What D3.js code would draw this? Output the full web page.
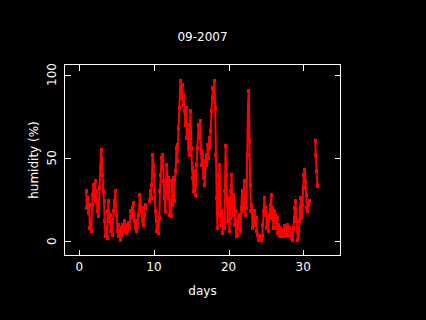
<!DOCTYPE html>
<html>
<head>
<meta charset="utf-8">
<script src="https://cdn.jsdelivr.net/npm/d3@7"></script>
<style>
  body { margin: 0; background: #000; }
  svg { display: block; }
</style>
</head>
<body>
<script>
// chart size
var w = 426;
var h = 320;

// readings every 0.1 day, starting at day 0.9 (null = no data)
var startDay = 0.9;
var stepDay = 0.1;
var humidity = [
  30, 20, 26, 17, 22, 8, 12, 6, 22, 28,          // 0.9 - 1.8
  34, 26, 36, 24, 30, 18, 24, 15, 32, 44,        // 1.9 - 2.8
  55, 50, 40, 30, 24, 12, 3, 8, 2, 18,           // 2.9 - 3.8
  24, 12, 16, 6, 10, 4, 12, 18, 24, 30,          // 3.9 - 4.8
  22, 16, 6, 10, 3, 6, 1, 8, 4, 10,              // 4.9 - 5.8
  6, 12, 7, 10, 5, 9, 6, 11, 8, 14,              // 5.9 - 6.8
  18, 14, 20, 23, 16, 12, 8, 12, 6, 10,          // 6.9 - 7.8
  16, 20, 28, 22, 18, 12, 20, 10, 16, 22,        // 7.9 - 8.8
  20, null, null, null, null, 24, 30, 26, 34, 52, // 8.9 - 9.8
  46, 40, 30, 18, 12, 6, 9, 5, 14, 30,           // 9.9 - 10.8
  40, 50, 44, 52, 36, 26, 18, 30, 46, 36,        // 10.9 - 11.8
  26, 38, 16, 24, 15, 36, 22, 38, 24, 36,        // 11.9 - 12.8
  42, 56, 48, 58, 68, 80, 92, 96, 86, 94,        // 12.9 - 13.8
  82, 88, 78, 70, 80, 62, 70, 56, 52, 66,        // 13.9 - 14.8
  78, 56, 44, 38, 30, 42, 28, 34, 46, 56,        // 14.9 - 15.8
  64, 70, 62, 72, 54, 46, 52, 38, 44, 34,        // 15.9 - 16.8
  48, 52, 46, 58, 50, 62, 56, 66, 78, 86,        // 16.9 - 17.8
  92, 90, 96, 80, 52, 26, 8, 16, 40, 46,         // 17.9 - 18.8
  22, 10, 18, 5, 14, 8, 30, 57, 40, 22,          // 18.9 - 19.8
  12, 26, 6, 14, 30, 40, 20, 16, 28, 10,         // 19.9 - 20.8
  18, 3, 12, 4, 14, 8, 16, 6, 20, 30,            // 20.9 - 21.8
  18, 26, 36, 16, 28, 20, 52, 82, 90, 60,        // 21.9 - 22.8
  34, 18, 22, 8, 16, 10, 18, 10, 14, 6,          // 22.9 - 23.8
  4, 1, 3, 1, 2, 1, 3, 10, 18, 26,               // 23.9 - 24.8
  16, 20, 8, 14, 6, 12, 16, 22, 28, 14,          // 24.9 - 25.8
  20, 8, 18, 12, 16, 8, 14, 5, 10, 4,            // 25.9 - 26.8
  8, 3, 7, 4, 6, 3, 9, 6, 8, 4,                  // 26.9 - 27.8
  10, 6, 8, 3, 5, 2, 6, 1, 8, 14,                // 27.9 - 28.8
  20, 24, 12, 6, 0.5, 4, 12, 20, 26, 14,         // 28.9 - 29.8
  22, 32, 40, 43, 36, 28, 20, 18, 22, 24,        // 29.9 - 30.8
  null, null, null, null, null, null, null, 60, 52, 42, // 30.9 - 31.8
  33                                             // 31.9
];

var xTicks = [0, 10, 20, 30];
var yTicks = [0, 50, 100];

var data = humidity.map(function (v, i) {
  return { day: startDay + i * stepDay, hum: v };
});

// plot box
var boxL = 64.5, boxR = 340.5, boxT = 64.5, boxB = 255.5;

var x = d3.scaleLinear().domain([-2, 35]).range([boxL, boxR]);
var y = d3.scaleLinear().domain([-8.6, 106]).range([boxB, boxT]);

var svg = d3.select("body")
            .append("svg")
            .attr("width", w)
            .attr("height", h)
            .style("font-family", "DejaVu Sans, sans-serif")
            .style("font-size", "12px");

svg.append("rect")
   .attr("width", w)
   .attr("height", h)
   .attr("fill", "#000");

// title
svg.append("text")
   .attr("x", (boxL + boxR) / 2)
   .attr("y", 41)
   .attr("text-anchor", "middle")
   .attr("fill", "#fff")
   .text("09-2007");

// data: thin line through the readings plus a blocky mark at each one
var line = d3.line()
             .defined(function (d) { return d.hum !== null; })
             .x(function (d) { return x(d.day); })
             .y(function (d) { return y(d.hum); });

svg.append("path")
   .datum(data)
   .attr("d", line)
   .attr("fill", "none")
   .attr("stroke", "#ff0000")
   .attr("stroke-width", 2);

svg.selectAll("rect.pt")
   .data(data.filter(function (d) { return d.hum !== null; }))
   .enter()
   .append("rect")
   .attr("class", "pt")
   .attr("x", function (d) { return x(d.day) - 1.5; })
   .attr("y", function (d) { return y(d.hum) - 2; })
   .attr("width", 3)
   .attr("height", 4)
   .attr("shape-rendering", "crispEdges")
   .attr("fill", "#ff0000");

// box with inward ticks on every side
var tickLen = 6;
var axisG = svg.append("g").attr("stroke", "#fff").attr("stroke-width", 1)
               .attr("shape-rendering", "crispEdges");

axisG.append("rect")
     .attr("x", boxL).attr("y", boxT)
     .attr("width", boxR - boxL).attr("height", boxB - boxT)
     .attr("fill", "none");

axisG.selectAll("line.xb").data(xTicks).enter().append("line")
     .attr("x1", function (d) { return Math.round(x(d)) + 0.5; })
     .attr("x2", function (d) { return Math.round(x(d)) + 0.5; })
     .attr("y1", boxB).attr("y2", boxB - tickLen);
axisG.selectAll("line.xt").data(xTicks).enter().append("line")
     .attr("x1", function (d) { return Math.round(x(d)) + 0.5; })
     .attr("x2", function (d) { return Math.round(x(d)) + 0.5; })
     .attr("y1", boxT).attr("y2", boxT + tickLen);
axisG.selectAll("line.yl").data(yTicks).enter().append("line")
     .attr("y1", function (d) { return Math.round(y(d)) + 0.5; })
     .attr("y2", function (d) { return Math.round(y(d)) + 0.5; })
     .attr("x1", boxL).attr("x2", boxL + tickLen);
axisG.selectAll("line.yr").data(yTicks).enter().append("line")
     .attr("y1", function (d) { return Math.round(y(d)) + 0.5; })
     .attr("y2", function (d) { return Math.round(y(d)) + 0.5; })
     .attr("x1", boxR).attr("x2", boxR - tickLen);

// tick labels
svg.selectAll("text.xl").data(xTicks).enter().append("text")
   .attr("x", function (d) { return x(d); })
   .attr("y", 271)
   .attr("text-anchor", "middle")
   .attr("fill", "#fff")
   .text(function (d) { return d; });

svg.selectAll("text.yl").data(yTicks).enter().append("text")
   .attr("transform", function (d) { return "translate(56," + y(d) + ") rotate(-90)"; })
   .attr("text-anchor", "middle")
   .attr("fill", "#fff")
   .text(function (d) { return d; });

// axis titles
svg.append("text")
   .attr("x", (boxL + boxR) / 2)
   .attr("y", 295)
   .attr("text-anchor", "middle")
   .attr("fill", "#fff")
   .text("days");

svg.append("text")
   .attr("transform", "translate(38," + (boxT + boxB) / 2 + ") rotate(-90)")
   .attr("text-anchor", "middle")
   .attr("fill", "#fff")
   .text("humidity (%)");
</script>
</body>
</html>
